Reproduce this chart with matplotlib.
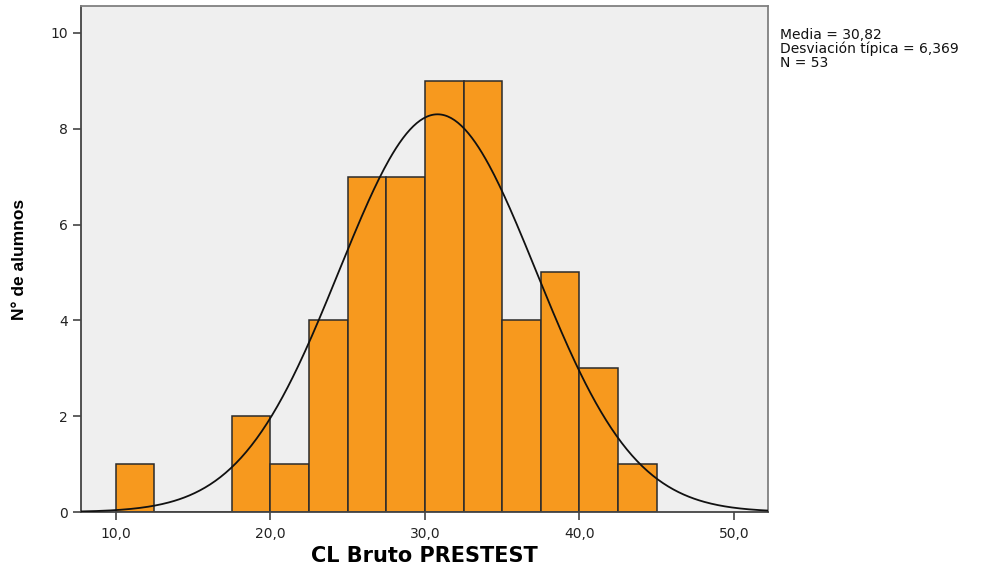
import numpy as np
import matplotlib
matplotlib.use('Agg')
import matplotlib.pyplot as plt

# histogram data (bin width 2.5)
bin_left = [10.0, 12.5, 15.0, 17.5, 20.0, 22.5, 25.0, 27.5, 30.0, 32.5, 35.0, 37.5, 40.0, 42.5]
counts = [1, 0, 0, 2, 1, 4, 7, 7, 9, 9, 4, 5, 3, 1]
bin_width = 2.5
media = 30.82
desv = 6.369
n = 53
xticks = [10, 20, 30, 40, 50]
xticklabels = ['10,0', '20,0', '30,0', '40,0', '50,0']
yticks = [0, 2, 4, 6, 8, 10]

plt.rcParams['font.family'] = ['DejaVu Sans']
plt.rcParams['font.stretch'] = 'normal'

fig = plt.figure(figsize=(9.85, 5.69), dpi=100)
ax = fig.add_axes([81/985, 1 - 512/569, (768-81)/985, (512-6)/569])
ax.set_facecolor('#efefef')

ax.bar(bin_left, counts, width=bin_width, align='edge', color='#f7991e',
       edgecolor='#2b2b2b', linewidth=1.1, zorder=2)

xs = np.linspace(7.75, 52.2, 400)
ys = n * bin_width * np.exp(-0.5 * ((xs - media) / desv) ** 2) / (desv * np.sqrt(2 * np.pi))
ax.plot(xs, ys, color='#111111', linewidth=1.3, zorder=3)

ax.set_xlim(7.75, 52.2)
ax.set_ylim(0, 10.56)
ax.set_xticks(xticks)
ax.set_xticklabels(xticklabels)
ax.set_yticks(yticks)
ax.tick_params(direction='out', length=6, width=1.2, color='#444444', labelsize=10, labelcolor='#222222')
ax.tick_params(axis='x', pad=5)

for side in ['left', 'bottom']:
    ax.spines[side].set_color('#444444')
    ax.spines[side].set_linewidth(1.3)
for side in ['top', 'right']:
    ax.spines[side].set_color('#808080')
    ax.spines[side].set_linewidth(1.3)

ax.set_xlabel('CL Bruto PRESTEST', fontsize=15, fontweight='bold')
ax.xaxis.set_label_coords(0.5, -0.068)
ax.set_ylabel('N° de alumnos', fontsize=12.5, fontweight='bold', family='Liberation Sans')
ax.yaxis.set_label_coords(-0.079, 0.5)

fig.text(780/985, 1 - 49/569, 'Media = 30,82\nDesviación típica = 6,369\nN = 53',
         fontsize=10, family='DejaVu Sans', stretch='normal',
         va='center', ha='left', linespacing=0.95, color='#111111')

fig.savefig('out.png', dpi=100)
